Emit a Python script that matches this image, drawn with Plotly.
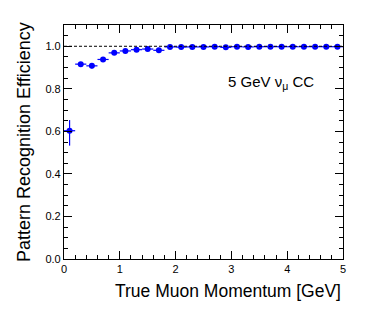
import plotly.graph_objects as go

momentum = [0.1, 0.3, 0.5, 0.7, 0.9, 1.1, 1.3, 1.5, 1.7, 1.9, 2.1, 2.3, 2.5, 2.7, 2.9,
            3.1, 3.3, 3.5, 3.7, 3.9, 4.1, 4.3, 4.5, 4.7, 4.9]
efficiency = [0.603, 0.916, 0.908, 0.938, 0.969, 0.978, 0.984, 0.987, 0.981, 0.997, 0.996, 0.997,
              0.997, 0.998, 0.995, 0.998, 0.997, 0.998, 0.998, 0.998, 0.998, 0.998, 0.998, 0.998, 0.998]
eff_err_up = [0.050, 0.010, 0.010, 0.008, 0.006, 0.005, 0.004, 0.004, 0.004, 0.002, 0.002, 0.002,
              0.001, 0.001, 0.001, 0.001, 0.001, 0.001, 0.001, 0.001, 0.001, 0.001, 0.001, 0.001, 0.001]
eff_err_down = [0.070, 0.012, 0.012, 0.009, 0.007, 0.005, 0.004, 0.004, 0.004, 0.002, 0.002, 0.002,
                0.001, 0.001, 0.001, 0.001, 0.001, 0.001, 0.001, 0.001, 0.001, 0.001, 0.001, 0.001, 0.001]
bin_half = [0.1] * len(momentum)

FONT = "Liberation Sans, Arial, sans-serif"

fig = go.Figure()
fig.add_trace(go.Scatter(
    x=momentum, y=efficiency, mode="markers",
    marker=dict(color="#0000ff", size=6),
    error_y=dict(type="data", symmetric=False, array=eff_err_up, arrayminus=eff_err_down,
                 color="#0000ff", thickness=1.2, width=0),
    error_x=dict(type="data", array=bin_half, color="#0000ff", thickness=1.2, width=0),
    showlegend=False,
))

fig.add_shape(type="line", x0=0, x1=5, y0=1.0, y1=1.0, xref="x", yref="y",
              line=dict(color="black", width=1, dash="3px,2px"))

fig.add_annotation(x=2.9, y=0.83, xref="x", yref="y", xanchor="left", yanchor="middle",
                   text="5 GeV ν<sub>μ</sub> CC", showarrow=False,
                   font=dict(family=FONT, size=15, color="black"))

fig.add_annotation(x=1.0, y=-0.137, xref="paper", yref="paper", xanchor="right", yanchor="middle",
                   text="True Muon Momentum [GeV]", showarrow=False,
                   font=dict(family=FONT, size=17.5, color="black"))
fig.add_annotation(x=-0.143, y=0.5, xref="paper", yref="paper", xanchor="center", yanchor="middle",
                   text="Pattern Recognition Efficiency", showarrow=False, textangle=-90,
                   font=dict(family=FONT, size=18, color="black"))

fig.update_xaxes(range=[0, 5], dtick=1, tick0=0, ticks="inside", ticklen=8, tickwidth=1,
                 tickcolor="black", showline=True, linecolor="black", linewidth=1.2,
                 mirror="allticks", showgrid=False, zeroline=False,
                 tickfont=dict(family=FONT, size=11, color="black"),
                 minor=dict(dtick=0.2, ticks="inside", ticklen=4, tickcolor="black", showgrid=False))
fig.update_yaxes(range=[0, 1.1], dtick=0.2, tick0=0, tickformat=".1f", ticks="inside", ticklen=8,
                 tickwidth=1, tickcolor="black", showline=True, linecolor="black", linewidth=1.2,
                 mirror="allticks", showgrid=False, zeroline=False,
                 tickfont=dict(family=FONT, size=11, color="black"),
                 minor=dict(dtick=0.05, ticks="inside", ticklen=4, tickcolor="black", showgrid=False))

fig.update_layout(width=374, height=316, margin=dict(l=64, r=31, t=25, b=57),
                  plot_bgcolor="white", paper_bgcolor="white",
                  font=dict(family=FONT, color="black"))

fig.write_html("out.html", config={"displayModeBar": False},
               post_script="document.body.style.margin='0';")
